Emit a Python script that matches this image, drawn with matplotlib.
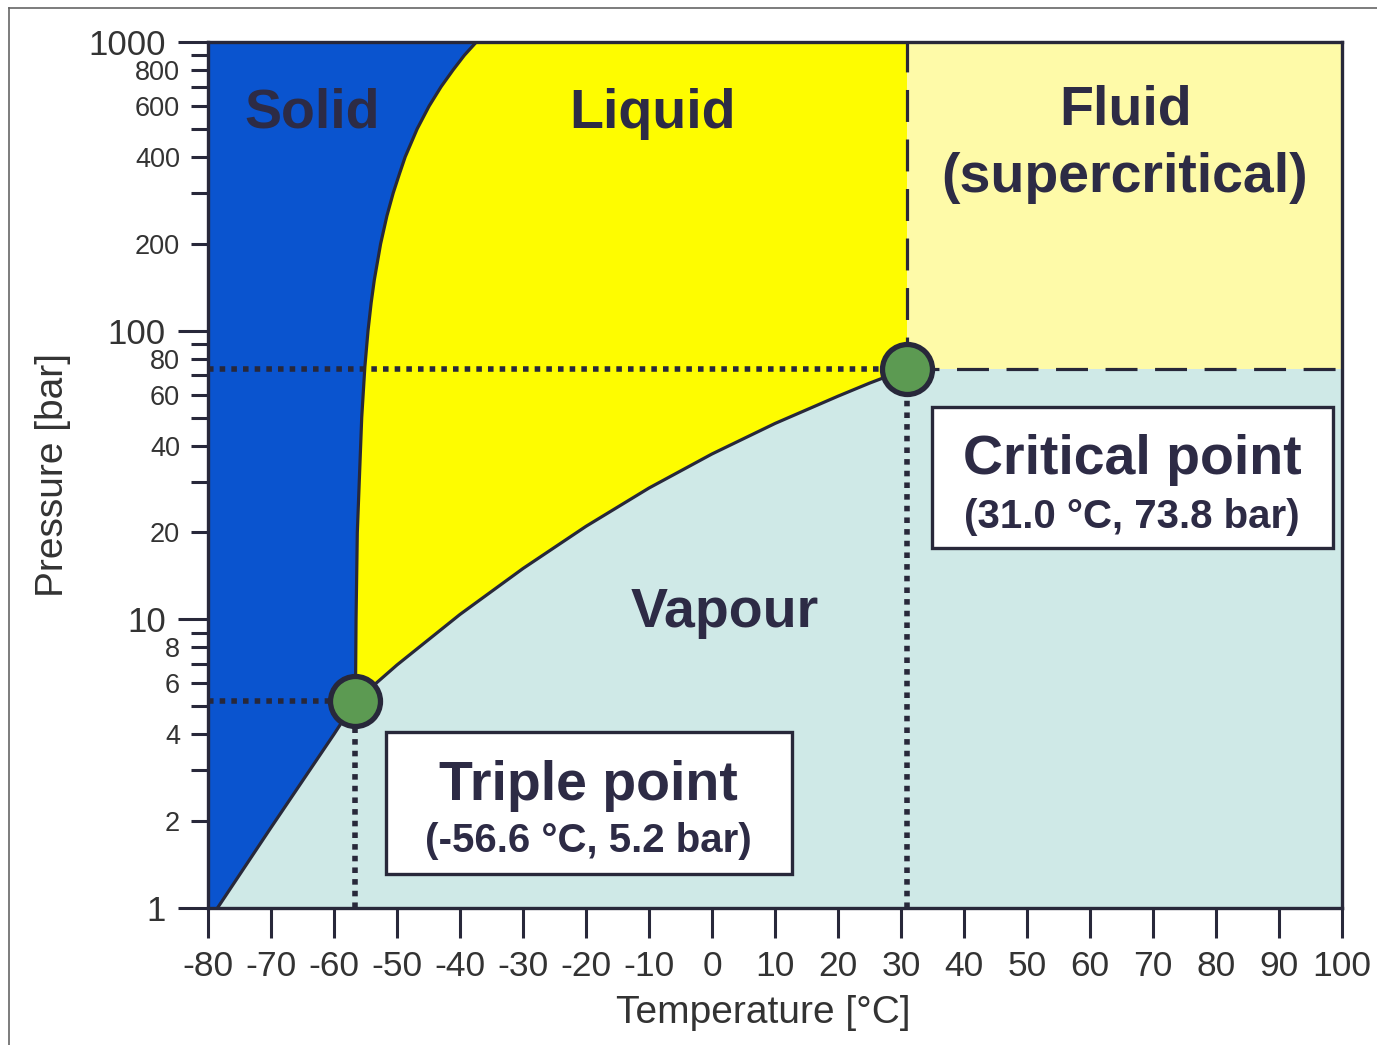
import matplotlib
matplotlib.use("Agg")
import matplotlib.pyplot as plt
from matplotlib.patches import Rectangle, Polygon
from matplotlib.lines import Line2D
from matplotlib.ticker import FixedLocator, FuncFormatter

plt.rcParams['font.family'] = ['Liberation Sans', 'DejaVu Sans']

# ---------------- data ----------------
sublimation_T = [-78.5, -70, -60, -56.6]
sublimation_p = [1.0, 1.9, 4.0, 5.2]

melting_T = [-56.6, -56.5, -56.3, -55.6, -55.1, -54.6, -54.1, -53.6, -52.6, -51.6,
             -50.6, -49.6, -48.7, -46.8, -44.9, -43.0, -41.1, -39.3, -37.4]
melting_p = [5.2, 10, 20, 50, 75, 100, 125, 150, 200, 250,
             300, 350, 400, 500, 600, 700, 800, 900, 1000]

vapour_T = [-56.6, -50, -40, -30, -20, -10, 0, 10, 20, 25, 31.0]
vapour_p = [5.2, 6.95, 10.4, 15.0, 21.0, 28.5, 37.4, 47.7, 59.3, 65.8, 73.8]

triple_point = (-56.6, 5.2)
critical_point = (31.0, 73.8)

x_ticks = [-80, -70, -60, -50, -40, -30, -20, -10, 0, 10, 20, 30, 40, 50, 60, 70, 80, 90, 100]
y_major_ticks = [1, 10, 100, 1000]
y_minor_ticks = [2, 3, 4, 5, 6, 7, 8, 9, 20, 30, 40, 50, 60, 70, 80, 90,
                 200, 300, 400, 500, 600, 700, 800, 900]
y_minor_labelled = [2, 4, 6, 8, 20, 40, 60, 80, 200, 400, 600, 800]

x_min, x_max = -80, 100
y_min, y_max = 1, 1000

# ---------------- style ----------------
c_solid = '#0a54cf'
c_liquid = '#fefc00'
c_fluid = '#fefaa8'
c_vapour = '#cfe9e7'
c_line = '#28283a'
c_text = '#2d2b45'
c_tick = '#333333'
c_green = '#5c9a52'

fig = plt.figure(figsize=(13.77, 10.45), dpi=100)
ax = fig.add_axes([208 / 1377, 137 / 1045, 1134 / 1377, 866 / 1045])
ax.set_yscale('log')
ax.set_xlim(x_min, x_max)
ax.set_ylim(y_min, y_max)
ax.set_facecolor(c_vapour)

# solid region
solid_verts = [(x_min, y_min), (x_min, y_max)]
solid_verts += list(zip(melting_T[::-1], melting_p[::-1]))
solid_verts += list(zip(sublimation_T[::-1], sublimation_p[::-1]))
ax.add_patch(Polygon(solid_verts, closed=True, facecolor=c_solid, edgecolor='none', zorder=1))

# liquid region
liquid_verts = list(zip(melting_T, melting_p))
liquid_verts += [(critical_point[0], y_max)]
liquid_verts += list(zip(vapour_T[::-1], vapour_p[::-1]))
ax.add_patch(Polygon(liquid_verts, closed=True, facecolor=c_liquid, edgecolor='none', zorder=1))

# fluid region
ax.add_patch(Rectangle((critical_point[0], critical_point[1]),
                       x_max - critical_point[0], y_max - critical_point[1],
                       facecolor=c_fluid, edgecolor='none', zorder=1))

# phase boundaries
for T, p in [(sublimation_T, sublimation_p), (melting_T, melting_p), (vapour_T, vapour_p)]:
    ax.plot(T, p, color=c_line, lw=2.3, zorder=3, solid_joinstyle='round')

# dashed supercritical boundaries
ax.plot([critical_point[0], critical_point[0]], [critical_point[1], y_max],
        color=c_line, lw=2.3, ls=(0, (10, 5.5)), zorder=3)
ax.plot([critical_point[0], x_max], [critical_point[1], critical_point[1]],
        color=c_line, lw=2.3, ls=(0, (10, 5.5)), zorder=3)

# dotted guide lines
dot = dict(color=c_line, lw=4.0, ls=(0, (1.0, 1.1)), zorder=4, dash_capstyle='butt')
for (Tp, pp) in [triple_point, critical_point]:
    ax.plot([x_min, Tp], [pp, pp], **dot)
    ax.plot([Tp, Tp], [y_min, pp], **dot)

# points
for (Tp, pp) in [triple_point, critical_point]:
    ax.plot([Tp], [pp], marker='o', ms=36, mfc=c_green, mec=c_line, mew=3.8,
            zorder=6, clip_on=False)

# region labels
lab = dict(transform=ax.transAxes, ha='center', va='baseline', fontsize=40,
           fontweight='bold', color=c_text, zorder=8)
ax.text(0.0917, 0.9007, 'Solid', **lab)
ax.text(0.3924, 0.9007, 'Liquid', **lab)
ax.text(0.8095, 0.9042, 'Fluid', **lab)
ax.text(0.8086, 0.8268, '(supercritical)', **lab)
ax.text(0.4559, 0.3245, 'Vapour', **lab)

# info boxes
for (x0, y0, w, h) in [(0.6384, 0.4157, 0.3536, 0.1628), (0.1570, 0.0393, 0.3580, 0.1639)]:
    ax.add_patch(Rectangle((x0, y0), w, h, transform=ax.transAxes, facecolor='white',
                           edgecolor=c_line, lw=2.4, zorder=7))
ax.text(0.8148, 0.5012, 'Critical point', **lab)
ax.text(0.8148, 0.4388, '(31.0 °C, 73.8 bar)', **{**lab, 'fontsize': 29})
ax.text(0.3351, 0.1247, 'Triple point', **lab)
ax.text(0.3351, 0.0647, '(-56.6 °C, 5.2 bar)', **{**lab, 'fontsize': 29})

# axes and ticks
for s in ax.spines.values():
    s.set_color(c_line)
    s.set_linewidth(2.4)
    s.set_zorder(5)

ax.set_xticks(x_ticks)
ax.set_xticklabels([str(v) for v in x_ticks])
ax.set_yticks(y_major_ticks)
ax.set_yticklabels([str(v) for v in y_major_ticks])
ax.yaxis.set_minor_locator(FixedLocator(y_minor_ticks))
ax.yaxis.set_minor_formatter(FuncFormatter(
    lambda v, pos: str(int(round(v))) if int(round(v)) in y_minor_labelled else ''))
ax.xaxis.set_minor_locator(FixedLocator([]))

ax.tick_params(axis='x', which='major', direction='out', length=21.5, width=2.2,
               pad=9, labelsize=25.5, labelcolor=c_tick, color=c_line)
ax.tick_params(axis='y', which='major', direction='out', length=21.5, width=2.2,
               pad=9, labelsize=25, labelcolor=c_tick, color=c_line)
ax.tick_params(axis='y', which='minor', direction='out', length=12, width=2.2,
               pad=8, labelsize=19.5, labelcolor=c_tick, color=c_line)

ax.set_xlabel('Temperature [°C]', fontsize=28, color=c_tick)
ax.xaxis.set_label_coords(0.490, -0.100)
ax.xaxis.label.set_va('top')
ax.set_ylabel('Pressure [bar]', fontsize=28, color=c_tick)
ax.yaxis.set_label_coords(-0.121, 0.5)

# scanned page border
fig.add_artist(Line2D([9 / 1377, 9 / 1377], [0, 1 - 8 / 1045], transform=fig.transFigure,
                      color='#666666', lw=1.2))
fig.add_artist(Line2D([9 / 1377, 1], [1 - 8 / 1045, 1 - 8 / 1045], transform=fig.transFigure,
                      color='#666666', lw=1.2))

fig.savefig('out.png', dpi=100, facecolor='white')
